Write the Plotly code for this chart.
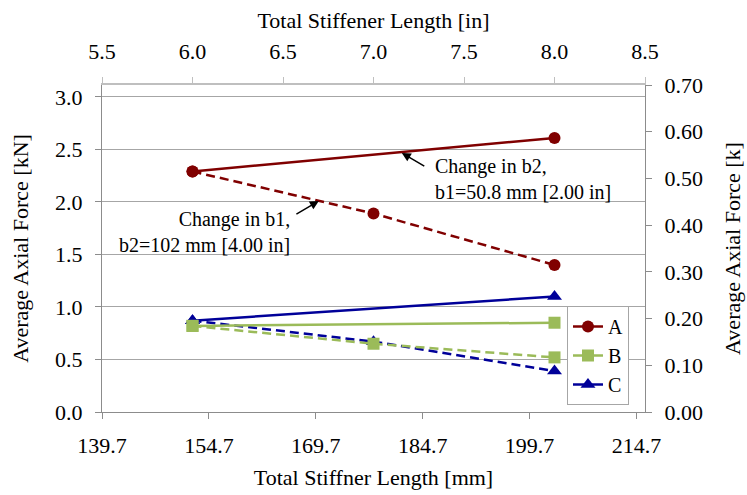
import plotly.graph_objects as go

# ---- data ----
len_mm_b2 = [152.4, 203.2]            # change in b2 (solid)
len_mm_b1 = [152.4, 177.8, 203.2]     # change in b1 (dashed)
A_b2 = [2.29, 2.61]
B_b2 = [0.82, 0.85]
C_b2 = [0.87, 1.10]
A_b1 = [2.29, 1.89, 1.40]
B_b1 = [0.82, 0.65, 0.52]
C_b1 = [0.87, 0.67, 0.39]

mm_ticks = [139.7, 154.7, 169.7, 184.7, 199.7, 214.7]
mm_ticktext = ["139.7", "154.7", "169.7", "184.7", "199.7", "214.7"]
kN_ticks = [0.0, 0.5, 1.0, 1.5, 2.0, 2.5, 3.0]

KN_PER_K = 4.44822
k_max = 0.70

colors = {"A": "#800000", "B": "#9BBB59", "C": "#000099"}
symbols = {"A": "circle", "B": "square", "C": "triangle-up"}
msize = {"A": 12, "B": 12, "C": 13}
rank = {"A": 1, "B": 2, "C": 3}

FONT = "Liberation Serif"

fig = go.Figure()

def add(name, x, y, dashed):
    fig.add_trace(go.Scatter(
        x=x, y=y, mode="lines+markers", name=name,
        legendgroup=name, showlegend=not dashed, legendrank=rank[name],
        line=dict(color=colors[name], width=2.5, dash="9px,5px" if dashed else "solid"),
        marker=dict(symbol=symbols[name], size=msize[name], color=colors[name]),
        xaxis="x", yaxis="y",
    ))

add("A", len_mm_b2, A_b2, False)
add("A", len_mm_b1, A_b1, True)
add("C", len_mm_b2, C_b2, False)
add("C", len_mm_b1, C_b1, True)
add("B", len_mm_b2, B_b2, False)
add("B", len_mm_b1, B_b1, True)

# invisible trace to activate secondary axes (inches / kips)
fig.add_trace(go.Scatter(x=[5.5, 8.5], y=[0, k_max], mode="markers",
                         marker=dict(opacity=0), showlegend=False,
                         hoverinfo="skip", xaxis="x2", yaxis="y2"))

axis_col = "#8C8C8C"
tickfont = dict(family=FONT, size=22, color="#000000")
titlefont = dict(family=FONT, size=22, color="#000000")

fig.update_layout(
    width=747, height=495,
    margin=dict(l=102, r=102, t=85, b=83, autoexpand=False),
    paper_bgcolor="white", plot_bgcolor="white",
    font=dict(family=FONT, size=22, color="black"),
    xaxis=dict(range=[139.7, 215.9], tickmode="array", tickvals=mm_ticks,
               ticktext=mm_ticktext, showgrid=False, zeroline=False,
               showline=True, linecolor=axis_col, linewidth=1,
               ticks="outside", ticklen=6, tickcolor=axis_col,
               tickfont=tickfont, ticklabelstandoff=8, automargin=False,
               title=dict(text="Total Stiffner Length [mm]", font=titlefont, standoff=12)),
    xaxis2=dict(range=[5.5, 8.5], overlaying="x", side="top", anchor="y",
                tick0=5.5, dtick=0.5, tickformat=".1f", showgrid=False,
                zeroline=False, showline=True, linecolor="#BFBFBF", linewidth=2,
                ticks="outside", ticklen=6, tickcolor="#BFBFBF",
                tickfont=tickfont, ticklabelstandoff=9, automargin=False,
                title=dict(text="Total Stiffener Length [in]", font=titlefont, standoff=5)),
    yaxis=dict(range=[0, k_max * KN_PER_K], tickmode="array", tickvals=kN_ticks,
               tickformat=".1f", showgrid=True, gridcolor="#A6A6A6", gridwidth=1,
               zeroline=False, showline=True, linecolor=axis_col, linewidth=1,
               ticks="outside", ticklen=6, tickcolor=axis_col,
               tickfont=tickfont, ticklabelstandoff=8, automargin=False,
               title=dict(text="Average Axial Force [kN]", font=titlefont, standoff=20)),
    yaxis2=dict(range=[0, k_max], overlaying="y", side="right", anchor="x",
                tick0=0, dtick=0.1, tickformat=".2f", showgrid=False,
                zeroline=False, showline=True, linecolor=axis_col, linewidth=1,
                ticks="outside", ticklen=6, tickcolor=axis_col,
                tickfont=tickfont, ticklabelstandoff=8, automargin=False,
                title=dict(text="Average Axial Force [k]", font=titlefont, standoff=22)),
    legend=dict(x=0.9705, y=0.0214, xanchor="right", yanchor="bottom",
                bgcolor="white", bordercolor="#A6A6A6", borderwidth=1,
                font=dict(family=FONT, size=20, color="black"),
                itemwidth=30, tracegroupgap=0),
    showlegend=True,
)

# arrows
fig.add_annotation(x=181.77, y=2.467, ax=185.14, ay=2.333, axref="x", ayref="y",
                   xref="x", yref="y", text="", showarrow=True,
                   arrowhead=2, arrowsize=1.2, arrowwidth=1.5, arrowcolor="black")
fig.add_annotation(x=170.13, y=2.010, ax=166.77, ay=1.876, axref="x", ayref="y",
                   xref="x", yref="y", text="", showarrow=True,
                   arrowhead=2, arrowsize=1.2, arrowwidth=1.5, arrowcolor="black")
# texts
fig.add_annotation(x=186.1, y=2.22, xref="x", yref="y", showarrow=False,
                   text="Change in b2,<br>b1=50.8 mm [2.00 in]", align="left",
                   xanchor="left", yanchor="middle",
                   font=dict(family=FONT, size=20, color="black"))
fig.add_annotation(x=166.4, y=1.71, xref="x", yref="y", showarrow=False,
                   text="Change in b1,<br>b2=102 mm [4.00 in]", align="right",
                   xanchor="right", yanchor="middle",
                   font=dict(family=FONT, size=20, color="black"))

fig.write_html("out.html")
